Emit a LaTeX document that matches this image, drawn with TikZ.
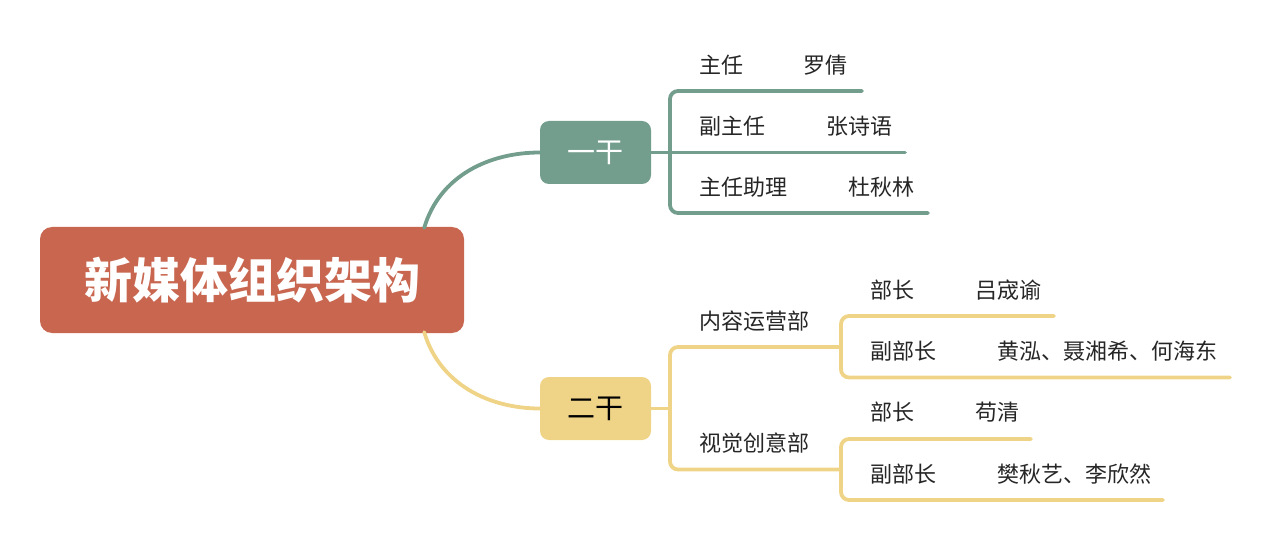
\documentclass[tikz,border=0pt]{standalone}
\usepackage{fontspec}
\newfontfamily\cjk{Noto Sans CJK SC}
\definecolor{rootc}{HTML}{C8664F}
\definecolor{gc}{HTML}{739D8D}
\definecolor{yc}{HTML}{EFD487}
\definecolor{txt}{HTML}{262626}
\begin{document}
\begin{tikzpicture}[x=1pt,y=-1pt,
  box/.style={rounded corners=9pt, inner sep=0pt, minimum height=63pt, minimum width=111pt},
  gline/.style={draw=gc, line width=3.8pt, line cap=round},
  yline/.style={draw=yc, line width=3.8pt, line cap=round},
  lbl/.style={anchor=west, inner sep=0pt, text=txt, font=\cjk\fontsize{22}{22}\selectfont}]
\useasboundingbox (0,0) rectangle (1269,540);
% boxes
\node[box, fill=rootc, minimum width=424pt, minimum height=106pt, rounded corners=12pt,
  text=white, font=\cjk\bfseries\fontsize{48}{48}\selectfont] (root) at (252,280) {新媒体组织架构};
\node[box, fill=gc, text=white, font=\cjk\fontsize{28}{28}\selectfont] (g1) at (595.5,152.5) {一干};
\node[box, fill=yc, text=black, font=\cjk\fontsize{28}{28}\selectfont] (g2) at (595.5,408.5) {二干};
% curves
\draw[gline] ([xshift=-40pt,yshift=-1pt]root.north east) .. controls (440,175) and (490,152.5) .. (g1.west);
\draw[yline] ([xshift=-40pt,yshift=1pt]root.south east) .. controls (440,385) and (490,408.5) .. (g2.west);
% branch 1
\coordinate (a1) at (862,91);
\coordinate (a2) at (905,152.5);
\coordinate (a3) at (928,213);
\draw[gline, rounded corners=8pt] (a1) -- (670,91) -- (670,213) -- (a3);
\draw[gline] (g1.east) -- (a2);
\node[lbl] (t1a) at (699,65) {主任};
\node[lbl] (t1b) at (803,65) {罗倩};
\node[lbl] (t2a) at (699,126) {副主任};
\node[lbl] (t2b) at (826,126) {张诗语};
\node[lbl] (t3a) at (699,187) {主任助理};
\node[lbl] (t3b) at (848,187) {杜秋林};
% branch 2
\coordinate (s1) at (841,347);
\coordinate (s2) at (841,469.5);
\coordinate (sm) at (670,408.5);
\draw[yline, rounded corners=8pt] (s1) -- (670,347) -- (670,469.5) -- (s2);
\draw[yline] (g2.east) -- (sm);
\node[lbl] (d1) at (699,321) {内容运营部};
\node[lbl] (d2) at (699,443) {视觉创意部};
% sub 1
\coordinate (b1) at (1054,316);
\coordinate (b2) at (1230,377.5);
\draw[yline, rounded corners=8pt] (b1) -- (841,316) -- (841,377.5) -- (b2);
\node[lbl] (u1a) at (870,290) {部长};
\node[lbl] (u1b) at (975,290) {吕宬谕};
\node[lbl] (u2a) at (870,351) {副部长};
\node[lbl] (u2b) at (997,351) {黄泓、聂湘希、何海东};
% sub 2
\coordinate (c1) at (1031,439);
\coordinate (c2) at (1163,500);
\draw[yline, rounded corners=8pt] (c1) -- (841,439) -- (841,500) -- (c2);
\node[lbl] (v1a) at (870,412) {部长};
\node[lbl] (v1b) at (975,412) {苟清};
\node[lbl] (v2a) at (870,474) {副部长};
\node[lbl] (v2b) at (997,474) {樊秋艺、李欣然};
\end{tikzpicture}
\end{document}
